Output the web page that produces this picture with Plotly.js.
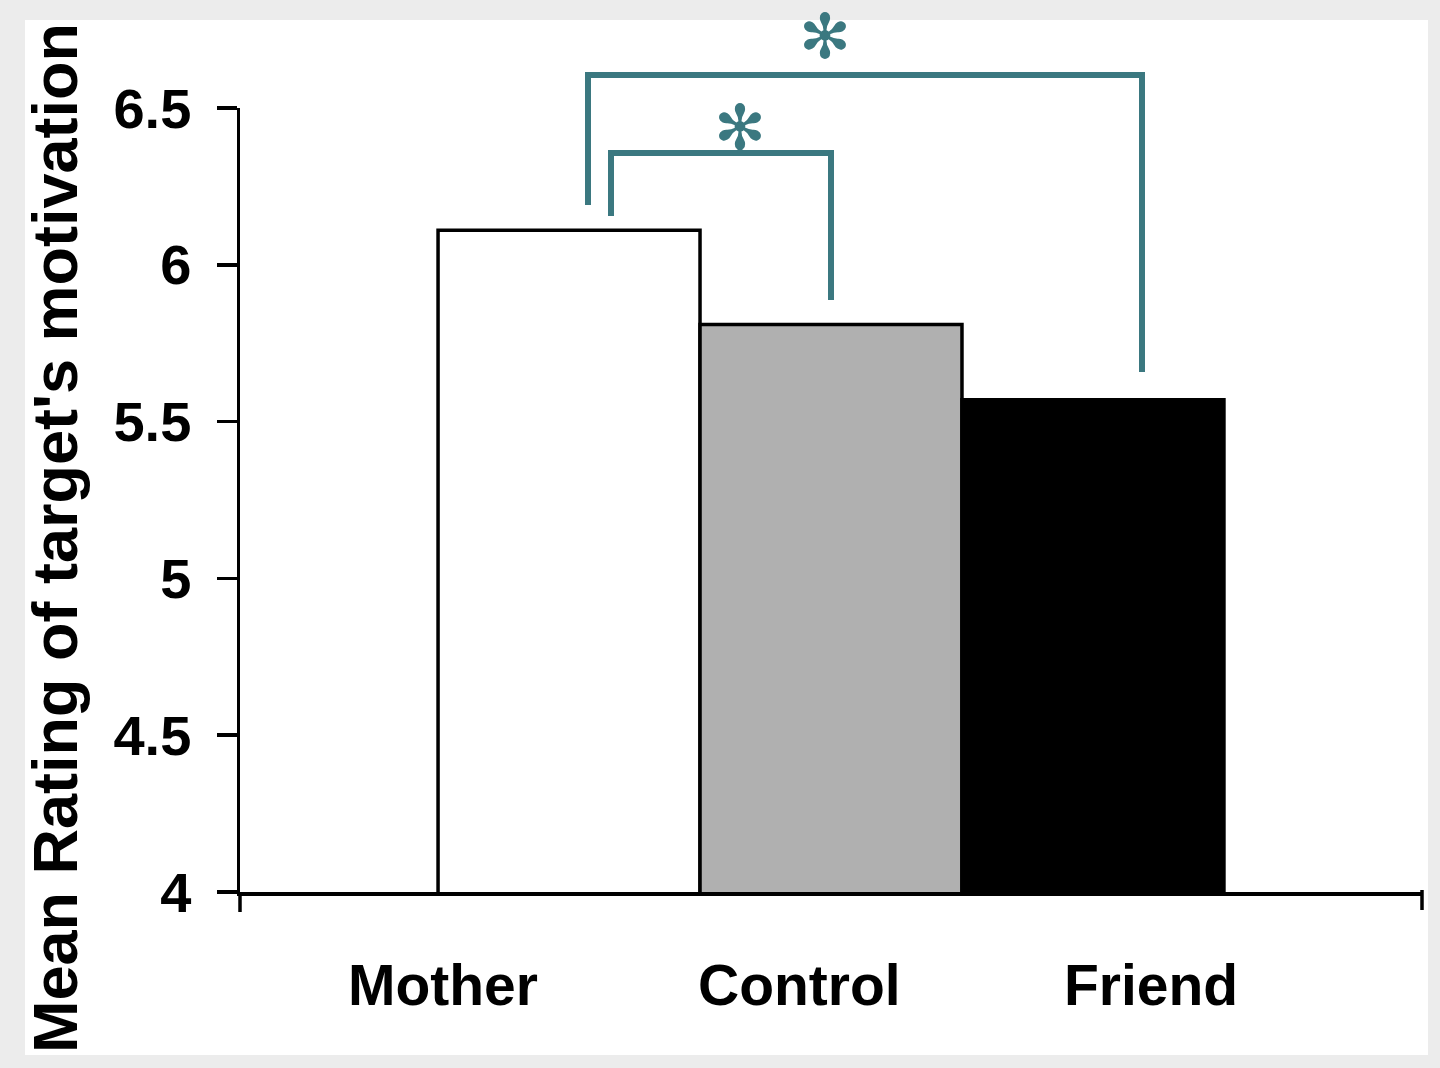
<!DOCTYPE html>
<html>
<head>
<meta charset="utf-8">
<script src="https://cdn.plot.ly/plotly-3.0.1.min.js"></script>
<style>
  html, body { margin: 0; padding: 0; background: #ececec; width: 1440px; height: 1068px; overflow: hidden; }
  #chart { position: absolute; left: 0; top: 0; width: 1440px; height: 1068px; }
</style>
</head>
<body>
<div id="chart"></div>
<script>
// ---- data ----
const categories = ["Mother", "Control", "Friend"];
const meanRatings = [6.11, 5.81, 5.57];
const barColors = ["#ffffff", "#b0b0b0", "#000000"];
const yTickVals = [4, 4.5, 5, 5.5, 6, 6.5];
const yTickText = ["4", "4.5", "5", "5.5", "6", "6.5"];
const yTitle = "Mean Rating of target's motivation";
const sigMark = "✻";

// ---- geometry helpers (page pixel -> paper) ----
const PL = 240, PR = 1422, PT = 108, PB = 892;   // plot area in page pixels
const px = x => (x - PL) / (PR - PL);
const py = y => (PB - y) / (PB - PT);

const teal = "#3b7880";
const font = "Liberation Sans, Arial, sans-serif";

const trace = {
  type: "bar",
  x: categories,
  y: meanRatings,
  width: 1,
  marker: { color: barColors, line: { color: "#000000", width: 3.5 } },
  hoverinfo: "x+y"
};

const labelOffsets = [-0.48, -0.12, 0.22];
const annotations = categories.map((c, i) => ({
  xref: "x", yref: "paper", x: i + labelOffsets[i], y: py(985),
  text: c, showarrow: false, xanchor: "center", yanchor: "middle",
  font: { family: font, size: 57, color: "#000", weight: "bold" }
}));
annotations.push({
  xref: "paper", yref: "paper", x: px(55), y: py(538),
  text: yTitle, textangle: -90, showarrow: false,
  xanchor: "center", yanchor: "middle",
  font: { family: font, size: 63, color: "#000", weight: "bold" }
});
annotations.push({
  xref: "paper", yref: "paper", x: px(825), y: py(37),
  text: sigMark, showarrow: false, xanchor: "center", yanchor: "middle",
  font: { family: "DejaVu Sans", size: 62, color: teal, weight: "bold" }
});
annotations.push({
  xref: "paper", yref: "paper", x: px(740), y: py(127),
  text: sigMark, showarrow: false, xanchor: "center", yanchor: "middle",
  font: { family: "DejaVu Sans", size: 62, color: teal, weight: "bold" }
});

const line = (x0, y0, x1, y1, color, w) => ({
  type: "line", xref: "paper", yref: "paper",
  x0: px(x0), y0: py(y0), x1: px(x1), y1: py(y1),
  line: { color: color, width: w }
});
const bracket = (xl, yl, xr, yr, ytop) => ({
  type: "path", xref: "paper", yref: "paper",
  path: `M ${px(xl)} ${py(yl)} L ${px(xl)} ${py(ytop)} L ${px(xr)} ${py(ytop)} L ${px(xr)} ${py(yr)}`,
  line: { color: teal, width: 6 }
});

const shapes = [
  { type: "rect", xref: "paper", yref: "paper", layer: "below",
    x0: px(25), x1: px(1428), y0: py(1055), y1: py(20),
    fillcolor: "#ffffff", line: { width: 0 } },
  bracket(588, 205, 1142, 372, 75),
  bracket(611, 216, 831, 300, 153),
  line(740, 153, 740, 142, teal, 5),
  line(240, 892, 240, 912, "#000", 3.5),
  line(1422, 890, 1422, 910, "#000", 3.5)
];

const layout = {
  width: 1440, height: 1068,
  margin: { l: 240, r: 18, t: 108, b: 176, pad: 0 },
  paper_bgcolor: "#ececec",
  plot_bgcolor: "#ffffff",
  showlegend: false,
  bargap: 0,
  xaxis: {
    type: "category",
    range: [-1.256, 3.256],
    showline: true, linecolor: "#000", linewidth: 3.5,
    showticklabels: false, ticks: "", showgrid: false, zeroline: false,
    fixedrange: true
  },
  yaxis: {
    range: [4, 6.5],
    tickvals: yTickVals, ticktext: yTickText,
    showline: true, linecolor: "#000", linewidth: 3.5,
    ticks: "outside", ticklen: 20, tickwidth: 3.5, tickcolor: "#000",
    ticklabelstandoff: 14,
    tickfont: { family: font, size: 56, color: "#000", weight: "bold" },
    showgrid: false, zeroline: false, fixedrange: true
  },
  annotations: annotations,
  shapes: shapes
};

Plotly.newPlot("chart", [trace], layout, { displayModeBar: false, staticPlot: true });
</script>
</body>
</html>
